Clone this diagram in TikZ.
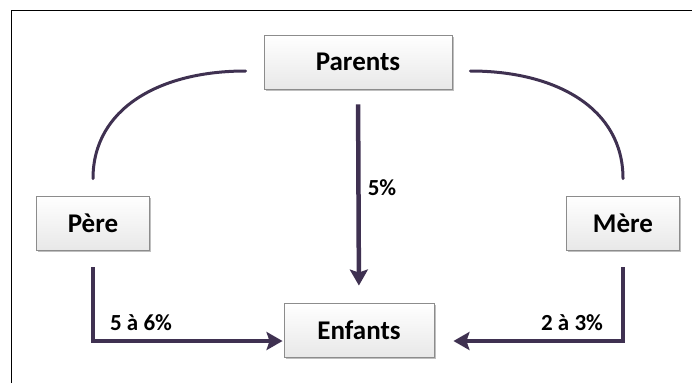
\documentclass[tikz,border=0pt]{standalone}
\usepackage{fontspec}
\setmainfont{Carlito}
\usetikzlibrary{arrows.meta,shadows,calc}
\definecolor{linkcol}{HTML}{3F3151}
\definecolor{boxedge}{HTML}{8C8C8C}
\tikzset{
  box/.style={draw=boxedge, line width=0.9pt, top color=white, bottom color=black!9,
    minimum height=54pt, font=\bfseries\fontsize{27}{30}\selectfont,
    drop shadow={shadow xshift=1.5pt, shadow yshift=-1.5pt, opacity=0.25, fill=black}},
  link/.style={draw=linkcol, line width=4.5pt, line join=miter},
  flow/.style={link, -{Stealth[length=16pt, width=18pt, inset=3pt]}},
  arc/.style={draw=linkcol, line width=3pt, line cap=round},
  pct/.style={font=\bfseries\fontsize{23}{26}\selectfont}
}
\begin{document}
\begin{tikzpicture}[x=1pt, y=-1pt]
  \useasboundingbox (0,0) rectangle (692,383);
  % outer frame
  \draw[line width=1pt] (11,383) -- (11,10) -- (692,10);

  % boxes
  \node[box, minimum width=188pt] (parents) at (358,62) {Parents};
  \node[box, minimum width=113pt] (pere) at (93,223) {Père};
  \node[box, minimum width=113pt] (mere) at (623,223) {Mère};
  \node[box, minimum width=150pt] (enfants) at (359,330) {Enfants};

  % curved links from Parents down to each parent
  \coordinate (pl) at ($(parents.west)+(-18,9)$);
  \coordinate (pr) at ($(parents.east)+(18,9)$);
  \coordinate (pt) at ($(pere.north)+(0,-17)$);
  \coordinate (mt) at ($(mere.north)+(0,-17)$);
  \draw[arc] (pl) .. controls ($(pl)+(-86,0)$) and ($(pt)+(0,-70)$) .. (pt);
  \draw[arc] (pr) .. controls ($(pr)+(86,0)$) and ($(mt)+(0,-70)$) .. (mt);

  % transmission arrows
  \draw[flow, shorten <=15pt, shorten >=17pt] (parents.south) -- (enfants.north);
  \draw[flow, shorten <=17pt] (pere.south) |- ($(enfants.west)+(-1,11)$);
  \draw[flow, shorten <=17pt, shorten >=19pt] (mere.south) |- ($(enfants.east)+(0,11)$);

  % percentages
  \node[pct] at (382,188) {5\%};
  \node[pct] at (141,323) {5 à 6\%};
  \node[pct] at (572,323) {2 à 3\%};
\end{tikzpicture}
\end{document}
